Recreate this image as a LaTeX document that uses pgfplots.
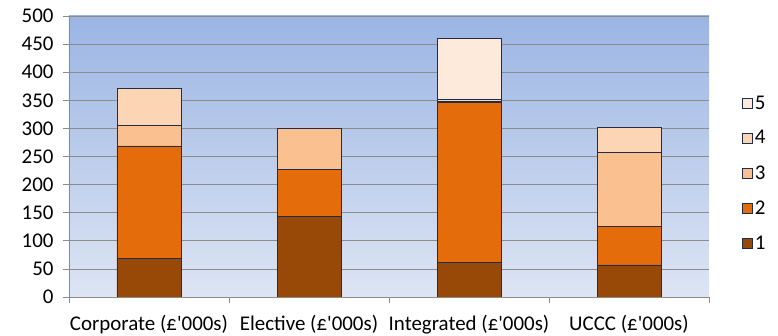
\documentclass[border=0pt]{standalone}
\usepackage{pgfplots}
\pgfplotsset{compat=1.18}
\usepackage{fontspec}
\setmainfont{Carlito}
\definecolor{c1}{HTML}{984807}
\definecolor{c2}{HTML}{E46C0A}
\definecolor{c3}{HTML}{FAC090}
\definecolor{c4}{HTML}{FCD5B5}
\definecolor{c5}{HTML}{FDEADA}
\definecolor{edge}{HTML}{1F2D4A}
\definecolor{gridc}{HTML}{8C8C8C}
\begin{document}
\begin{tikzpicture}
\useasboundingbox (-69bp,-39bp) rectangle (709bp,297bp);
\begin{axis}[
  at={(0,0)}, anchor=south west,
  scale only axis, width=640bp, height=281bp,
  ybar stacked, bar width=0.4,
  xmin=-0.5, xmax=3.5, ymin=0, ymax=500,
  ytick={0,50,...,500},
  xtick={0,1,2,3},
  xticklabels={Corporate (£\textquotesingle 000s),Elective (£\textquotesingle 000s),Integrated (£\textquotesingle 000s),UCCC (£\textquotesingle 000s)},
  major x tick style={draw=none},
  minor xtick={-0.5,0.5,1.5,2.5,3.5},
  minor tick length=6bp, major tick length=6bp,
  tick align=outside,
  tick style={gridc, line width=0.8pt},
  axis x line*=bottom, axis y line*=left,
  axis line style={gridc, line width=0.8pt, -},
  ymajorgrids, grid style={gridc, line width=0.8pt},
  /pgf/number format/assume math mode=true,
  ticklabel style={font=\fontsize{21}{25}\selectfont},
  xticklabel style={yshift=-9bp},
  yticklabel style={xshift=-6bp},
  axis background/.style={shade, top color={rgb,255:red,155;green,181;blue,227}, bottom color={rgb,255:red,221;green,229;blue,244}},
  every axis plot/.append style={draw=edge, line width=0.6pt},
  reverse legend,
  legend style={at={(1.0,0.441)}, anchor=west, draw=none, fill=none,
    font=\fontsize{21}{25}\selectfont, row sep=16bp, xshift=30bp},
  legend cell align=left,
  legend image code/.code={\draw[#1, line width=0.6pt] (0bp,-5bp) rectangle (10bp,5bp);},
]
\addplot[fill=c1] coordinates {(0,69) (1,143) (2,62) (3,57)};
\addplot[fill=c2] coordinates {(0,200) (1,84) (2,284) (3,69)};
\addplot[fill=c3] coordinates {(0,36) (1,74) (2,3) (3,132)};
\addplot[fill=c4] coordinates {(0,66) (1,0) (2,3) (3,44)};
\addplot[fill=c5] coordinates {(0,0) (1,0) (2,109) (3,0)};
\legend{1,2,3,4,5}
\end{axis}
\end{tikzpicture}
\end{document}
